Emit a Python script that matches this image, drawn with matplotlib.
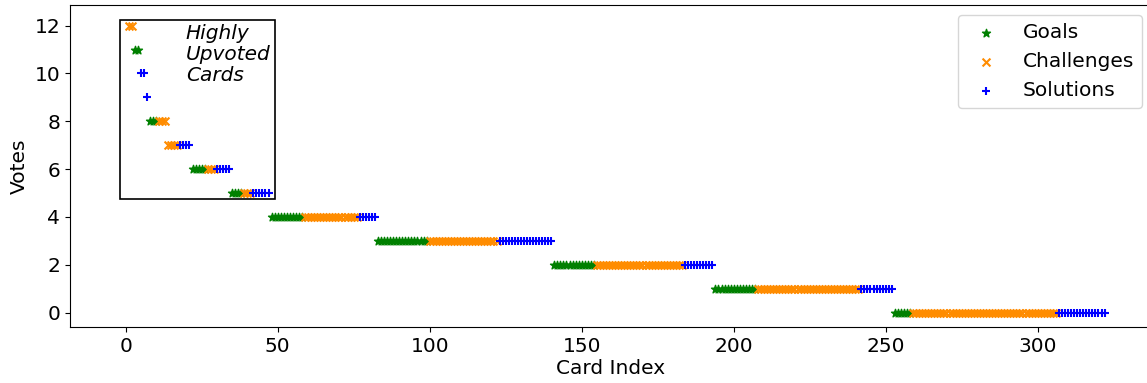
import numpy as np
import matplotlib
matplotlib.use('Agg')
import matplotlib.pyplot as plt
from matplotlib.patches import Rectangle

# vote levels, high to low
votes = [12, 11, 10, 9, 8, 7, 6, 5, 4, 3, 2, 1, 0]
# number of cards per vote level for each type
n_goals      = [0, 2, 0, 0, 3, 0, 5, 4, 11, 17, 14, 14, 6]
n_challenges = [2, 0, 0, 0, 3, 4, 3, 3, 18, 23, 29, 34, 48]
n_solutions  = [0, 0, 2, 1, 0, 4, 5, 6, 6, 18, 10, 11, 16]

# cards are numbered from 1, sorted by votes, then goals / challenges / solutions
gx, gy, cx, cy, sx, sy = [], [], [], [], [], []
idx = 1
for v, ng, nc, ns in zip(votes, n_goals, n_challenges, n_solutions):
    for k in range(ng):
        gx.append(idx); gy.append(v); idx += 1
    for k in range(nc):
        cx.append(idx); cy.append(v); idx += 1
    for k in range(ns):
        sx.append(idx); sy.append(v); idx += 1

plt.rcParams['font.size'] = 14.5
fig = plt.figure(figsize=(11.47, 3.83), dpi=100)
ax = fig.add_axes([70/1147, 1 - 327.3/383, (1152 - 70)/1147, (327.3 - 5)/383])

ax.scatter(gx, gy, marker='*', color='green', s=36, label='Goals')
ax.scatter(cx, cy, marker='x', color='darkorange', s=32, label='Challenges')
ax.scatter(sx, sy, marker='+', color='blue', s=32, label='Solutions')

# box round the top voted cards
ax.add_patch(Rectangle((-2, 4.75), 51, 7.5, fill=False, edgecolor='black', linewidth=1.2))
ax.text(19.8, 12.05, 'Highly\nUpvoted\nCards', fontstyle='italic', fontsize=14.5,
        va='top', ha='left', linespacing=1.12)

ax.set_xlim(-18.3, 337.6)
ax.set_ylim(-0.61, 12.86)
ax.set_xticks([0, 50, 100, 150, 200, 250, 300])
ax.set_yticks([0, 2, 4, 6, 8, 10, 12])
ax.set_xlabel('Card Index', labelpad=2)
ax.set_ylabel('Votes')
ax.legend(loc='upper right')

fig.savefig('out.png', dpi=100)
